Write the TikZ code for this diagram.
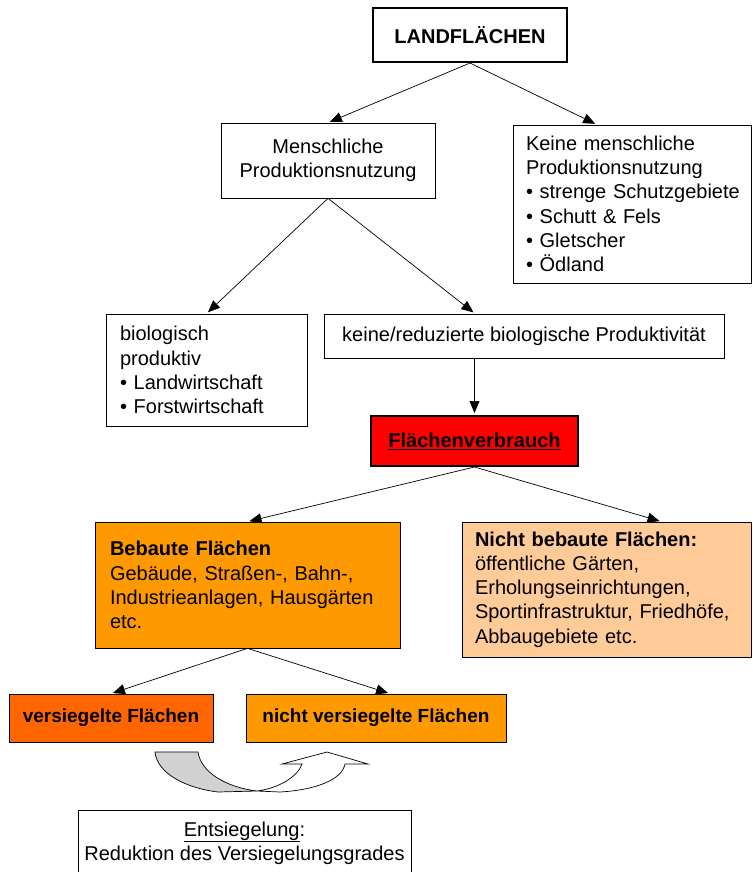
\documentclass[tikz,border=0pt]{standalone}
\usepackage{fontspec}
\setmainfont{Liberation Sans}
\usepackage{tikz}
\usetikzlibrary{calc}
\usetikzlibrary{arrows.meta}
\definecolor{orangefonce}{HTML}{FF6600}
\definecolor{orangemoyen}{HTML}{FF9900}
\definecolor{orangeclair}{HTML}{FFCC99}
\newcommand{\police}{\fontsize{20}{24.3}\selectfont}
\tikzstyle{boite}           =[draw, rectangle, line width=0.7pt, inner sep=0pt, font=\police]
\tikzstyle{epais}           =[line width=2pt]
\tikzstyle{fleche}          =[-{Triangle[length=12pt,width=10pt]}, line width=0.7pt, shorten >=2pt]

\begin{document}
\begin{tikzpicture}[x=1pt,y=-1pt]

\useasboundingbox (0,0) rectangle (752,872);

%%%%%%%%%%%%%%%%%%%%%%%%
%%%%%%%%%%%%%%%%%%%%%%%%
%Les boîtes du schéma
%(coordonnées en pixels, y vers le bas)
%%%%%%%%%%%%%%%%%%%%%%%%
%%%%%%%%%%%%%%%%%%%%%%%%

\node[boite, epais, minimum width=194pt, minimum height=54pt, font=\police\bfseries] (land) at (470,35) {LANDFLÄCHEN};

\node[boite, minimum width=214pt, minimum height=75pt, align=center] (mensch) at (328,160.5) {Menschliche\\Produktionsnutzung};

%les lignes sont protégées par \mbox pour éviter les coupures
\node[boite, minimum height=158pt, inner xsep=13pt, text width=212pt, align=left] (keine) at (632,204)
{\mbox{Keine menschliche}\\\mbox{Produktionsnutzung}\\\mbox{\textbullet\ strenge Schutzgebiete}\\\mbox{\textbullet\ Schutt \& Fels}\\\mbox{\textbullet\ Gletscher}\\\mbox{\textbullet\ Ödland}};

\node[boite, minimum height=112pt, inner xsep=14pt, text width=173pt, align=left] (bio) at (206.5,370)
{biologisch\\produktiv\\\textbullet\ Landwirtschaft\\\textbullet\ Forstwirtschaft};

\node[boite, minimum width=400pt, minimum height=44pt] (keinered) at (524,336) {keine/reduzierte biologische Produktivität};

\node[boite, epais, fill=red, minimum width=207pt, minimum height=50pt, font=\police\bfseries] (verbrauch) at (474.5,441) {\underline{Flächenverbrauch}};

\node[boite, fill=orangemoyen, minimum height=126pt, inner xsep=15pt, text width=275pt, align=left] (bebaut) at (247.5,585)
{\textbf{Bebaute Flächen}\\Gebäude, Straßen-, Bahn-,\\Industrieanlagen, Hausgärten\\etc.};

\node[boite, fill=orangeclair, minimum height=135pt, inner xsep=13pt, text width=263pt, align=left] (nichtbeb) at (606.5,589.5)
{\textbf{Nicht bebaute Flächen:}\\öffentliche Gärten,\\Erholungseinrichtungen,\\Sportinfrastruktur, Friedhöfe,\\Abbaugebiete etc.};

\node[boite, fill=orangefonce, minimum width=204pt, minimum height=48pt, font=\fontsize{19}{23}\selectfont\bfseries] (versieg) at (111,718) {versiegelte Flächen};

\node[boite, fill=orangemoyen, minimum width=260pt, minimum height=48pt, font=\fontsize{19}{23}\selectfont\bfseries] (nichtvers) at (376,718) {nicht versiegelte Flächen};

\node[boite, minimum width=333pt, minimum height=66pt, align=center] (entsieg) at (244.5,843)
{\underline{Entsiegelung}:\\Reduktion des Versiegelungsgrades};

%%%%%%%%%%%%%%%%%%%%%%%%
%%%%%%%%%%%%%%%%%%%%%%%%
%Les flèches
%%%%%%%%%%%%%%%%%%%%%%%%
%%%%%%%%%%%%%%%%%%%%%%%%

\coordinate (keineE) at ($(keine.north)+(-35,0)$);
\coordinate (keineredE) at ($(keinered.north)+(-49,0)$);
\coordinate (nichtbebE) at ($(nichtbeb.north)+(55,0)$);
\coordinate (nichtversE) at ($(nichtvers.north)+(14,0)$);

\draw[fleche] (land.south) -- (mensch.north);
\draw[fleche] (land.south) -- (keineE);
\draw[fleche] (mensch.south) -- (bio.north);
\draw[fleche] (mensch.south) -- (keineredE);
\draw[fleche] (keinered.south -| verbrauch.north) -- (verbrauch.north);
\draw[fleche] (verbrauch.south) -- (bebaut.north);
\draw[fleche] (verbrauch.south) -- (nichtbebE);
\draw[fleche] (bebaut.south) -- (versieg.north);
\draw[fleche] (bebaut.south) -- (nichtversE);

%%%%%%%%%%%%%%%%%%%%%%%%
%Flèche courbe (Entsiegelung)
%%%%%%%%%%%%%%%%%%%%%%%%

%partie grise (arrière)
\filldraw[fill=gray!35, line width=0.7pt] (155,752) -- (198,752)
  .. controls (201,772) and (225,787) .. (257,791)
  -- (218,792)
  .. controls (185,788) and (157,773) .. (155,752) -- cycle;
%partie blanche avec la pointe
\filldraw[fill=white, line width=0.7pt] (257,791) -- (280,792)
  .. controls (315,790) and (342,780) .. (345,764)
  -- (368,764) -- (327,752) -- (282,764) -- (302,764)
  .. controls (298,776) and (280,788) .. (257,791) -- cycle;

\end{tikzpicture}
\end{document}
